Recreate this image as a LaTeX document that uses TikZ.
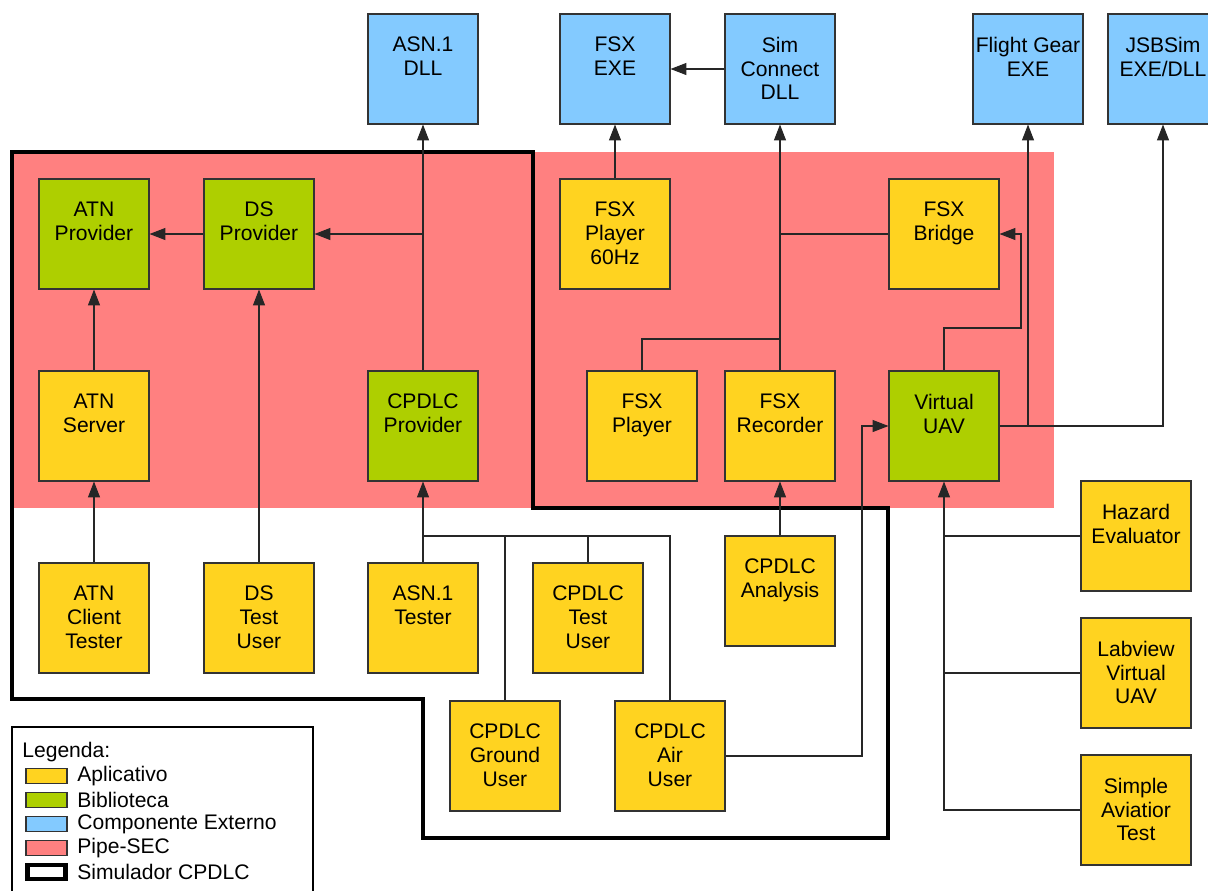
\documentclass[tikz,border=0pt]{standalone}
\usepackage{fontspec}
\setmainfont{Liberation Sans}
\usetikzlibrary{arrows.meta,calc}
\definecolor{appcol}{HTML}{FFD320}
\definecolor{libcol}{HTML}{AECF00}
\definecolor{extcol}{HTML}{83CAFF}
\definecolor{pipecol}{HTML}{FF8080}
\begin{document}
\begin{tikzpicture}[x=0.02cm,y=-0.02cm,
  every node/.style={font=\fontsize{12}{13.6}\selectfont},
  box/.style={draw=black!80,line width=0.6pt,minimum width=2.2cm,minimum height=2.2cm,inner sep=0pt},
  app/.style={box,fill=appcol},
  lib/.style={box,fill=libcol},
  ext/.style={box,fill=extcol},
  lbl/.style={anchor=north,align=center,inner sep=0pt,yshift=-0.46cm},
  wire/.style={draw=black!85,line width=0.6pt},
  arr/.style={wire,-{Triangle[length=9pt,width=6.8pt]}},
  simborder/.style={line width=2.6pt,line join=miter},
  legtxt/.style={anchor=west,inner sep=0pt}]
\useasboundingbox (0,0) rectangle (1208,890);

% Pipe-SEC area
\fill[pipecol] (12,152) rectangle (1054,508);
% Simulador CPDLC outline
\draw[simborder] (12,152) -- (533,152) -- (533,508) -- (888,508) -- (888,838)
  -- (423,838) -- (423,699) -- (12,699) -- cycle;

% external components
\node[ext,label={[lbl]north:{ASN.1\\DLL}}] (asndll) at (423,69) {};
\node[ext,label={[lbl]north:{FSX\\EXE}}] (fsxexe) at (615,69) {};
\node[ext,label={[lbl]north:{Sim\\Connect\\DLL}}] (simc) at (780,69) {};
\node[ext,label={[lbl]north:{Flight Gear\\EXE}}] (fgear) at (1028,69) {};
\node[ext,label={[lbl]north:{JSBSim\\EXE/DLL}}] (jsb) at (1163,69) {};

% second row
\node[lib,label={[lbl]north:{ATN\\Provider}}] (atnp) at (94,234) {};
\node[lib,label={[lbl]north:{DS\\Provider}}] (dsp) at (259,234) {};
\node[app,label={[lbl]north:{FSX\\Player\\60Hz}}] (fsx60) at (615,234) {};
\node[app,label={[lbl]north:{FSX\\Bridge}}] (bridge) at (944,234) {};

% third row
\node[app,label={[lbl]north:{ATN\\Server}}] (atns) at (94,426) {};
\node[lib,label={[lbl]north:{CPDLC\\Provider}}] (cpdlcp) at (423,426) {};
\node[app,label={[lbl]north:{FSX\\Player}}] (fsxp) at (642,426) {};
\node[app,label={[lbl]north:{FSX\\Recorder}}] (fsxr) at (780,426) {};
\node[lib,label={[lbl]north:{Virtual\\UAV}}] (vuav) at (944,426) {};

% test applications
\node[app,label={[lbl]north:{ATN\\Client\\Tester}}] (atnct) at (94,618) {};
\node[app,label={[lbl]north:{DS\\Test\\User}}] (dstu) at (259,618) {};
\node[app,label={[lbl]north:{ASN.1\\Tester}}] (asnt) at (423,618) {};
\node[app,label={[lbl]north:{CPDLC\\Test\\User}}] (cpdtu) at (588,618) {};
\node[app,label={[lbl]north:{CPDLC\\Analysis}}] (cpdan) at (780,591) {};
\node[app,label={[lbl]north:{CPDLC\\Ground\\User}}] (ground) at (505,756) {};
\node[app,label={[lbl]north:{CPDLC\\Air\\User}}] (air) at (670,756) {};
\node[app,label={[lbl]north:{Hazard\\Evaluator}}] (hazard) at (1136,536) {};
\node[app,label={[lbl]north:{Labview\\Virtual\\UAV}}] (labview) at (1136,673) {};
\node[app,label={[lbl]north:{Simple\\Aviatior\\Test}}] (simple) at (1136,810) {};

% bend points
\coordinate (bus) at (423,536);
\coordinate (fsxjoin) at (780,339);
\coordinate (uavbend) at (1021,328);
\coordinate (airbend) at (862,426);

% CPDLC side
\draw[arr] (cpdlcp.north) -- (asndll.south);
\draw[arr] (asndll.south |- dsp.east) -- (dsp.east);
\draw[arr] (dsp.west) -- (atnp.east);
\draw[arr] (atns.north) -- (atnp.south);
\draw[arr] (atnct.north) -- (atns.south);
\draw[arr] (dstu.north) -- (dsp.south);
\draw[arr] (asnt.north) -- (cpdlcp.south);
\draw[wire] (bus) -| (air.north);
\draw[wire] (ground.north) -- (ground.north |- bus);
\draw[wire] (cpdtu.north) -- (cpdtu.north |- bus);

% FSX side
\draw[arr] (fsx60.north) -- (fsxexe.south);
\draw[arr] (simc.west) -- (fsxexe.east);
\draw[arr] (fsxr.north) -- (simc.south);
\draw[wire] (bridge.west) -- (simc.south |- bridge.west);
\draw[wire] (fsxp.north) |- (fsxjoin);
\draw[arr] (cpdan.north) -- (fsxr.south);

% Virtual UAV
\draw[arr] (vuav.north) |- (uavbend) -- (uavbend |- bridge.east) -- (bridge.east);
\draw[arr] (vuav.east) -| (jsb.south);
\draw[arr] (fgear.south |- vuav.east) -- (fgear.south);
\draw[arr] (air.east) -| (airbend) -- (vuav.west);
\draw[arr] (simple.west) -| (vuav.south);
\draw[wire] (hazard.west) -- (vuav.south |- hazard.west);
\draw[wire] (labview.west) -- (vuav.south |- labview.west);

% legend
\draw[line width=0.6pt] (12,727) rectangle (313,900);
\node[legtxt] (legtitle) at (22,752) {Legenda:};
\node[draw=black!80,line width=0.6pt,fill=appcol,minimum width=0.82cm,minimum height=0.3cm,inner sep=0pt] (lgapp) at (46.5,776) {};
\node[legtxt] (lgapptxt) at (77,776) {Aplicativo};
\node[draw=black!80,line width=0.6pt,fill=libcol,minimum width=0.82cm,minimum height=0.3cm,inner sep=0pt] (lglib) at (46.5,800) {};
\node[legtxt] (lglibtxt) at (77,800) {Biblioteca};
\node[draw=black!80,line width=0.6pt,fill=extcol,minimum width=0.82cm,minimum height=0.3cm,inner sep=0pt] (lgext) at (46.5,824) {};
\node[legtxt] (lgexttxt) at (77,824) {Componente Externo};
\node[draw=black!80,line width=0.6pt,fill=pipecol,minimum width=0.82cm,minimum height=0.3cm,inner sep=0pt] (lgpipe) at (46.5,848) {};
\node[legtxt] (lgpipetxt) at (77,848) {Pipe-SEC};
\node[draw,line width=2.4pt,fill=white,minimum width=0.76cm,minimum height=0.28cm,inner sep=0pt] (lgsim) at (46.5,872) {};
\node[legtxt] (lgsimtxt) at (77,872) {Simulador CPDLC};
\end{tikzpicture}
\end{document}
